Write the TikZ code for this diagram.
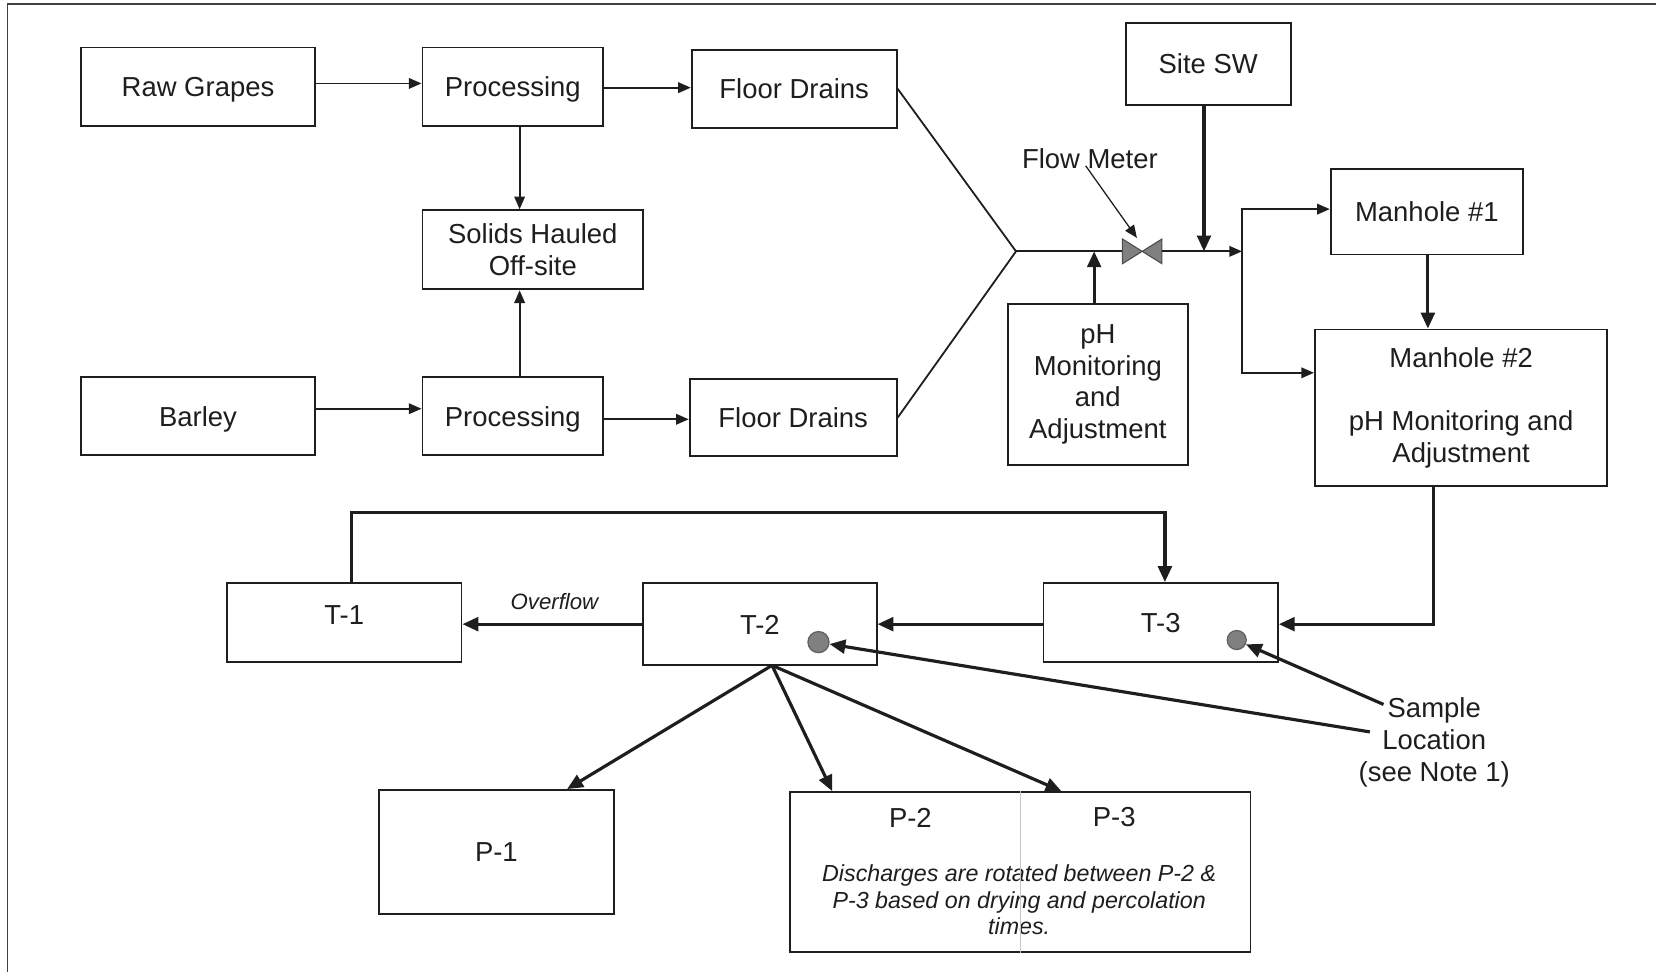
\documentclass[tikz,border=0pt]{standalone}
\usepackage{fontspec}
\setmainfont{Liberation Sans}
\usetikzlibrary{arrows.meta}
\definecolor{ink}{HTML}{1E1E1E}
\definecolor{dotgray}{HTML}{808080}
\begin{document}
\begin{tikzpicture}[x=1pt,y=-1pt,
  box/.style={draw=ink, line width=1.8pt, fill=white, inner sep=0pt, align=center, font=\fontsize{26}{30}\selectfont, text=ink},
  one/.style={text height=19pt, text depth=0pt},
  lbl/.style={inner sep=0pt, align=center, font=\fontsize{26}{30}\selectfont, text=ink},
  pipe/.style={draw=ink, line width=1.7pt},
  flowarr/.style={pipe, -{Triangle[length=12pt,width=10pt]}},
  big/.style={draw=ink, line width=3pt},
  bigarr/.style={big, -{Triangle[length=15pt,width=13pt]}},
  dot/.style={circle, inner sep=0pt, minimum size=20pt, fill=dotgray, draw=ink!70, line width=1.2pt},
]
\useasboundingbox (0,0) rectangle (1568,920);
\fill[white] (0,0) rectangle (1568,920);
\draw[draw=ink!85, line width=1.6pt] (7,930) -- (7,4) -- (1580,4);

% top row
\node[box, one, minimum width=221pt, minimum height=74pt] (raw) at (187.5,82) {Raw Grapes};
\node[box, one, minimum width=171pt, minimum height=74pt] (proc1) at (485.5,82) {Processing};
\node[box, one, minimum width=194pt, minimum height=74pt] (fd1) at (752,84) {Floor Drains};
\node[box, minimum width=209pt, minimum height=75pt] (solids) at (504.5,236.5) {Solids Hauled\\Off-site};
\node[box, one, minimum width=221pt, minimum height=74pt] (barley) at (187.5,394) {Barley};
\node[box, one, minimum width=171pt, minimum height=74pt] (proc2) at (485.5,394) {Processing};
\node[box, one, minimum width=196pt, minimum height=73pt] (fd2) at (751,395.5) {Floor Drains};
\node[box, one, minimum width=156pt, minimum height=77pt] (sw) at (1144,60.5) {Site SW};
\node[box, minimum width=171pt, minimum height=152pt] (ph) at (1039.5,364) {pH\\Monitoring\\and\\Adjustment};
\node[box, one, minimum width=182pt, minimum height=81pt] (m1) at (1351,200.5) {Manhole \#1};
\node[box, minimum width=277pt, minimum height=148pt] (m2) at (1383.5,386) {Manhole \#2\\[30pt]pH Monitoring and\\Adjustment};

% tanks
\node[box, minimum width=222pt, minimum height=75pt] (t1) at (326,589.5) {};
\node[lbl] (t1txt) at (326,582) {T-1};
\node[box, one, minimum width=221pt, minimum height=78pt] (t2) at (719.5,591) {T-2};
\node[box, one, minimum width=222pt, minimum height=75pt] (t3) at (1099,589.5) {T-3};
\node[box, one, minimum width=222pt, minimum height=117pt] (p1) at (470,806.5) {P-1};
\node[box, minimum width=436pt, minimum height=151pt] (pp) at (966,825.5) {};
\node[lbl] (p2txt) at (862,774) {P-2};
\node[lbl] (p3txt) at (1055,774) {P-3};
\node[lbl, font=\itshape\fontsize{22}{25}\selectfont] (note) at (965,852) {Discharges are rotated between P-2 \&\\P-3 based on drying and percolation\\times.};
\draw[gray!45, line width=1pt] (pp.north) -- (pp.south);

% dots
\node[dot] (d2) at (775,608) {};
\node[dot, minimum size=18pt] (d3) at (1171,606) {};

% top connectors
\draw[flowarr] (raw.east |- 0,79) -- (proc1.west |- 0,79);
\draw[flowarr] (proc1.east |- 0,83) -- (fd1.west |- 0,83);
\draw[flowarr] (proc1.south -| 492,0) -- (solids.north -| 492,0);
\draw[flowarr] (proc2.north -| 492,0) -- (solids.south -| 492,0);
\draw[flowarr] (barley.east |- 0,387) -- (proc2.west |- 0,387);
\draw[flowarr] (proc2.east |- 0,397) -- (fd2.west |- 0,397);

\coordinate (junc) at (962,238);
\draw[pipe] (fd1.east) -- (junc) -- (fd2.east);
\node[minimum width=37pt, minimum height=23pt, inner sep=0pt] (valve) at (1081.5,238) {};
\draw[pipe] (junc) -- (valve.west);
\filldraw[fill=dotgray, draw=ink!80, line width=1pt]
  (valve.north west) -- (valve.south west) -- (valve.center) -- cycle
  (valve.north east) -- (valve.south east) -- (valve.center) -- cycle;
\coordinate (split) at (1176,238);
\draw[flowarr] (valve.east) -- (split);
\draw[flowarr] (split) |- (m1.west |- 0,198);
\draw[flowarr] (split) |- (m2.west |- 0,353);
\draw[bigarr] (sw.south -| 1140,0) -- (split -| 1140,0);
\draw[bigarr] (ph.north -| 1036,0) -- (split -| 1036,0);

\node[lbl] (fm) at (1032,150) {Flow Meter};
\coordinate (fmtail) at (1028,157);
\draw[pipe, line width=1.2pt, -{Triangle[length=12pt,width=10pt]}] (fmtail) -- ([xshift=-5pt,yshift=1pt]valve.north);

% lower connectors
\draw[bigarr] (m1.south -| 1352,0) -- (m2.north -| 1352,0);
\draw[bigarr] (m2.south -| 1357,0) |- (t3.east |- 0,591);
\draw[bigarr] (t3.west |- 0,591) -- (t2.east |- 0,591);
\draw[bigarr] (t2.west |- 0,591) -- (t1.east |- 0,591);
\node[lbl, font=\itshape\fontsize{21}{24}\selectfont] (ovf) at (525,570) {Overflow};
\coordinate (loopL) at (333,485);
\draw[big, -{Triangle[length=15pt,width=13pt]}] (t1.north -| loopL) -- (loopL) -| (t3.north -| 1103,0);

\coordinate (t2o) at (731,630);
\draw[bigarr] (t2o) -- (p1.north -| 537,0);
\draw[bigarr] (t2o) -- (pp.north -| 788,0);
\draw[bigarr] (t2o) -- (pp.north -| 1005,0);

% sample location
\node[lbl, font=\fontsize{26}{30.5}\selectfont] (samp) at (1358,703) {Sample\\Location\\(see Note 1)};
\coordinate (s1) at (1310,667);
\coordinate (s2) at (1297,693);
\draw[bigarr] (s1) -- (d3.-25);
\draw[bigarr] (s2) -- (d2.-10);
\end{tikzpicture}
\end{document}
